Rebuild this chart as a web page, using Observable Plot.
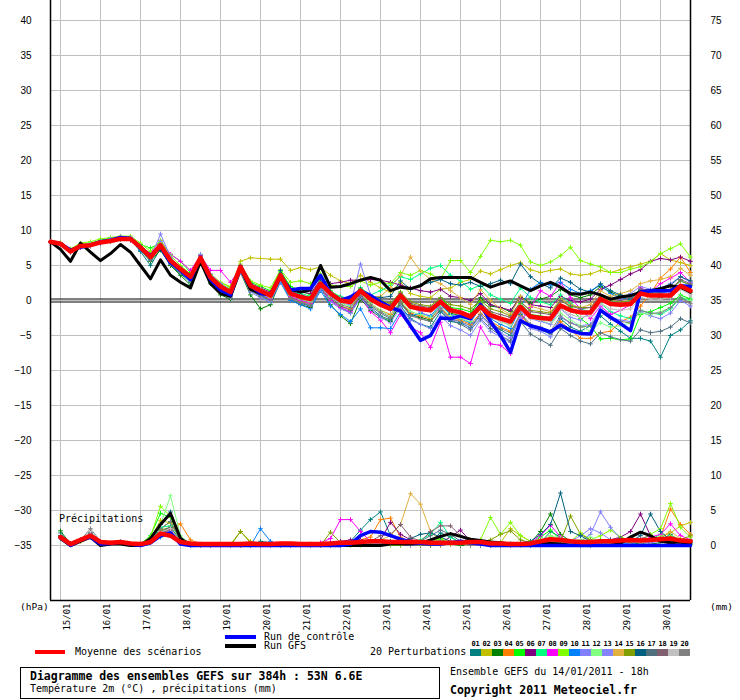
<!DOCTYPE html>
<html><head><meta charset="utf-8">
<script src="https://cdn.jsdelivr.net/npm/d3@7"></script>
<script src="https://cdn.jsdelivr.net/npm/@observablehq/plot@0.6"></script>
<style>
body{margin:0;background:#fff;}
#wrap{position:relative;width:740px;height:700px;overflow:hidden;font-family:"DejaVu Sans Mono",monospace;color:#000;}
.t{position:absolute;white-space:nowrap;line-height:1;}
.sw{position:absolute;}
</style></head><body><div id="wrap"></div>
<script>
// ---- time axis ----
const dayLabels = ["15/01","16/01","17/01","18/01","19/01","20/01","21/01","22/01","23/01","24/01","25/01","26/01","27/01","28/01","29/01","30/01"];
const tempTicks = [-35,-30,-25,-20,-15,-10,-5,0,5,10,15,20,25,30,35,40];
const precipOffset = 35; // right axis (mm) = left axis (°C) + 35

// ---- temperature 2m (°C), every 6h from 14/01 18h (65 steps) ----
const tMean = [8.4,8.1,7.0,7.8,7.9,8.3,8.5,8.8, 8.8,7.6,6.2,7.9,5.7,4.5,3.4,6.1, 3.3,2.0,1.2,4.8,2.1,1.4,0.7,3.6, 1.0,0.5,0.2,2.4,1.0,0.0,-0.2,1.4, 0.2,-0.6,-1.2,0.7,-0.9,-1.2,-1.4,-0.2, -1.4,-1.7,-2.3,-0.9,-2.1,-2.6,-3.0,-0.9, -2.3,-2.5,-2.6,-0.7,-1.4,-1.7,-1.7,0.2, -0.5,-0.6,-0.5,1.0,0.7,0.7,0.7,2.1, 1.4];
const tControl = [8.4,8.1,7.2,7.6,7.9,8.4,8.6,9.0, 8.9,7.5,6.4,7.6,5.4,4.3,3.0,6.2, 3.0,1.5,0.8,4.9,2.2,1.0,0.9,3.4, 1.5,1.7,1.7,3.6,1.0,0.0,0.5,1.4, 0.7,-0.2,-1.0,-1.5,-3.6,-5.7,-5.0,-2.5, -2.6,-2.2,-2.6,-0.6,-3.0,-5.0,-7.4,-2.9, -3.6,-4.0,-4.5,-3.5,-4.3,-4.7,-4.8,-1.4, -2.4,-3.3,-4.3,1.2,1.4,1.4,1.4,2.1, 2.0];
const tGFS = [8.4,7.3,5.6,8.2,6.9,5.7,6.7,8.0, 6.9,5.0,3.1,5.8,3.6,2.6,1.8,5.6, 2.4,1.0,0.6,4.6,1.6,1.0,0.8,3.5, 1.6,1.2,1.5,5.0,1.9,2.0,2.4,2.9, 3.3,2.9,1.4,1.9,1.7,2.1,3.1,3.3, 3.3,3.3,3.3,2.6,1.9,2.4,2.8,2.1, 1.4,2.1,2.6,1.9,1.0,0.9,1.2,0.8, 0.2,0.5,0.7,1.2,1.4,1.7,2.1,1.9, 1.2];
const t01 = [8.4,8.0,7.2,7.6,8.0,8.2,8.6,8.9, 8.7,7.0,5.0,7.4,5.0,3.8,2.6,5.8, 2.8,1.5,0.6,4.4,1.6,0.8,0.2,3.2, 0.6,-0.2,-0.8,1.6,0.0,-1.0,-1.8,0.4, -1.0,-2.2,-2.8,-0.8,-2.6,-3.4,-3.8,-1.6, -3.0,-3.2,-3.9,-2.0,-3.4,-4.2,-5.0,-2.0, -3.6,-4.2,-4.8,-2.6,-3.8,-4.4,-3.6,-2.2, -3.4,-4.4,-5.4,-5.4,-5.8,-8.1,-5.0,-4.2, -2.9];
const t02 = [8.4,8.2,7.1,7.9,8.1,8.4,8.6,8.9, 8.9,7.9,6.6,8.2,6.0,4.8,3.8,6.4, 3.8,2.6,1.8,5.6,6.1,6.0,5.9,5.9, 4.3,4.7,4.4,4.8,3.6,2.8,2.4,3.6, 2.6,1.8,1.2,2.6,1.0,0.6,0.4,1.6, 1.8,2.6,3.0,4.2,3.8,4.4,5.0,5.4, 4.4,4.0,4.3,4.5,3.8,3.6,3.8,4.3, 4.0,4.4,4.8,5.2,5.6,6.7,5.8,5.4, 5.0];
const t03 = [8.4,8.1,6.9,7.7,7.8,8.2,8.4,8.7, 8.6,7.2,5.6,7.2,5.0,3.6,2.2,5.6, 2.4,0.8,0.2,4.0,0.8,-1.2,-0.6,2.8, 0.2,-0.6,-1.0,1.8,-0.6,-2.2,-3.3,0.2, -1.4,-2.4,-3.0,-0.4,-2.0,-2.4,-2.8,-0.6, -1.8,-2.2,-2.0,0.4,-0.8,-1.0,-1.6,0.6, -0.4,0.2,0.6,1.6,0.8,0.4,0.8,2.0, 1.2,0.6,0.2,1.4,0.8,0.4,1.0,1.8, 1.2];
const t04 = [8.4,8.0,7.0,7.8,8.0,8.4,8.5,8.8, 8.8,7.4,6.0,7.8,5.4,4.2,3.0,5.8, 3.0,1.6,0.6,4.6,1.6,0.6,0.0,3.0, 0.4,-0.2,-0.4,2.0,0.4,-0.8,-1.2,0.8, -0.4,-1.4,-2.0,-0.2,-1.8,-2.2,-2.6,-1.0, -2.4,-2.8,-3.4,-1.8,-3.0,-3.8,-4.4,-2.2, -3.6,-4.2,-4.6,-3.0,-4.2,-5.4,-5.4,-4.6, -4.4,-3.0,-2.4,-0.8,1.0,3.2,4.5,6.2, 4.0];
const t05 = [8.4,8.2,7.2,8.0,8.2,8.6,8.9,9.0, 9.0,8.0,7.5,8.2,6.6,5.6,4.0,6.4, 3.6,2.2,1.4,5.0,2.6,2.0,1.4,4.2, 2.0,1.4,0.8,2.8,1.4,0.4,0.0,1.8, 0.4,-0.4,-1.0,1.2,-0.6,-1.0,-1.2,0.4, -1.0,-1.2,-1.6,-0.2,-1.8,-2.4,-3.2,-0.4, -2.0,-2.2,-2.8,0.2,-1.0,-2.6,-3.6,-5.5, -5.4,-5.6,-5.5,-2.0,-1.6,-1.0,-0.4,0.8, 0.2];
const t06 = [8.4,8.1,7.0,7.7,7.9,8.3,8.5,8.9, 8.9,7.7,6.4,8.0,5.8,4.4,3.2,6.2, 3.4,2.2,1.4,5.0,2.4,1.8,1.2,3.8, 1.6,1.2,1.0,3.0,2.4,2.6,2.9,2.9, 3.0,2.9,2.6,2.2,1.8,1.4,1.2,1.6, 0.6,0.4,0.0,1.0,-0.6,-1.0,-1.4,0.4, -0.6,-0.8,-1.0,0.6,0.0,-0.2,0.2,1.6, 2.2,3.0,3.8,4.4,5.6,6.0,5.8,6.2, 5.6];
const t07 = [8.4,8.2,7.1,7.9,8.0,8.4,8.6,8.9, 8.9,7.8,6.4,8.1,6.0,4.8,3.6,6.2, 3.6,2.4,1.6,4.9,2.2,1.6,1.0,3.8, 1.6,1.0,0.6,2.6,1.2,0.6,0.2,1.8, 0.8,1.4,2.2,3.4,3.0,3.8,4.6,5.0, 3.6,2.8,1.6,2.2,0.8,0.2,-0.4,1.8, 0.4,-0.2,-0.6,0.8,-0.4,-1.2,-1.6,-0.4, -1.6,-2.2,-2.6,-1.4,-1.8,-2.0,-1.2,0.4, 0.0];
const t08 = [8.4,8.0,6.9,7.6,7.8,8.2,8.4,8.7, 8.6,7.6,6.8,8.6,6.6,5.6,4.3,6.4, 4.3,4.3,2.6,4.6,1.8,1.0,0.2,3.0, 0.6,0.0,-0.4,1.8,0.0,-1.0,-1.6,0.6, -1.6,-2.8,-4.6,-2.0,-3.8,-4.6,-6.7,-3.1, -8.1,-8.1,-9.0,-3.8,-6.2,-6.4,-7.6,-3.0, -1.0,1.4,0.6,2.6,0.4,-1.2,-2.6,-0.8, -2.0,-1.4,-0.6,1.8,1.2,2.4,3.2,4.0, 2.6];
const t09 = [8.4,8.3,7.4,8.2,8.4,8.8,9.0,9.2, 9.2,8.2,7.0,8.6,6.4,5.0,3.8,6.6, 3.6,2.6,2.0,5.2,2.8,2.2,1.8,4.4, 2.6,2.8,2.4,3.8,2.2,2.0,2.0,2.8, 2.2,2.6,2.4,4.0,3.6,4.3,3.8,3.0, 5.7,5.7,4.0,6.3,8.6,8.4,8.6,7.9, 5.5,5.0,5.5,6.4,7.6,5.7,5.2,4.8, 4.0,4.0,4.5,4.8,5.5,6.7,7.4,8.1, 6.2];
const t10 = [8.4,8.1,7.0,7.8,7.9,8.2,8.4,8.7, 8.7,7.2,5.8,7.6,5.2,4.0,2.8,5.9, 3.0,1.6,0.8,4.6,1.4,0.6,-0.2,2.6, 0.0,-0.6,-1.2,1.4,-0.8,-2.0,-3.0,-1.2, -3.9,-3.9,-4.0,-1.6,-2.2,-1.8,-2.2,-0.6, -2.0,-2.6,-3.2,-0.8,-2.6,-3.4,-4.0,-1.0, 1.6,2.6,2.2,2.6,1.6,1.0,1.4,2.2, 1.0,0.4,0.2,1.6,1.2,1.0,1.4,2.8, 2.2];
const t11 = [8.4,8.2,7.2,8.0,8.1,8.5,8.8,9.1, 9.0,7.8,6.0,9.5,6.2,4.6,3.6,6.6, 3.8,2.4,1.4,4.6,1.6,0.8,0.4,3.4, 0.8,0.2,-0.2,2.0,0.4,-0.4,-0.6,5.2, 0.8,-0.4,-1.4,0.8,-1.0,-1.6,-2.4,-1.0, -2.8,-3.0,-4.0,-2.2,-3.6,-4.6,-5.4,-2.4, -4.0,-4.4,-5.2,-2.4,-3.2,-3.6,-3.4,-1.2, -2.4,-2.8,-3.0,-1.6,-2.2,-2.6,-1.8,0.0, -0.8];
const t12 = [8.4,8.1,7.1,7.9,8.0,8.4,8.6,8.9, 8.8,7.6,6.2,7.8,5.6,4.4,3.2,5.9, 3.2,1.8,1.0,4.6,1.8,1.2,0.4,3.4, 0.8,0.2,-0.2,2.2,0.6,-0.4,-0.8,1.0, -0.4,-1.4,-2.2,0.0,-1.6,-2.0,-2.4,-0.8, -2.2,-2.6,-3.0,-1.0,-2.4,-3.0,-3.6,-0.6, -2.2,-2.8,-3.4,-1.8,-2.8,-3.6,-4.4,-3.2, -3.8,-3.6,-3.2,-1.8,-2.0,-1.6,-1.0,0.6, 0.0];
const t13 = [8.4,8.0,6.9,7.7,7.8,8.2,8.4,8.7, 8.7,7.4,6.0,8.4,5.2,4.0,2.8,5.8, 2.8,1.4,0.4,4.0,1.2,0.4,-0.2,2.8, 0.2,-0.4,-0.8,1.6,-0.2,-1.2,-1.8,0.4, -1.2,-2.4,-3.2,-1.0,-2.8,-3.4,-4.0,-2.2, -3.6,-4.2,-5.0,-2.8,-4.4,-5.2,-6.0,-1.6, -2.6,-3.0,-3.4,-1.2,-2.4,-2.8,-1.6,0.8, -0.6,0.2,1.0,2.0,1.6,1.8,2.4,3.4, 2.6];
const t14 = [8.4,8.1,7.0,7.8,7.9,8.3,8.5,8.8, 8.8,7.5,6.0,7.7,5.6,4.3,3.2,6.0, 3.2,1.8,1.0,4.8,1.8,1.2,0.4,3.4, 0.8,0.4,0.0,2.2,0.8,0.0,-0.4,1.4, 0.4,0.6,1.8,3.6,6.2,4.2,3.0,2.4, 1.4,0.4,-0.6,1.6,0.0,-1.2,-2.0,0.6, -0.8,-1.2,-1.6,0.2,-0.6,-1.0,-0.6,1.4, 0.6,1.0,1.4,2.4,2.8,3.0,3.4,4.6, 3.6];
const t15 = [8.4,8.2,7.1,7.9,8.0,8.4,8.6,8.9, 8.9,7.7,6.3,8.0,5.8,4.6,3.4,6.1, 3.4,2.0,1.2,4.8,2.2,1.6,0.8,3.8, 1.2,0.6,0.4,2.6,1.2,0.4,0.2,1.6, 0.6,0.0,-0.4,1.2,-0.2,-0.6,-0.8,0.4, -0.6,-0.8,-1.2,0.0,-1.2,-1.6,-2.2,-0.2, -1.4,-1.6,-1.8,0.0,-0.8,-1.0,-1.0,0.6, 0.0,-0.2,0.0,1.2,1.0,1.2,1.6,2.8, 2.2];
const t16 = [8.4,8.1,7.0,7.8,7.9,8.3,8.5,8.8, 8.8,7.4,5.8,7.8,5.4,4.2,3.0,5.8, 3.0,1.6,0.8,4.8,1.8,1.2,0.6,4.3, 1.4,0.8,0.4,2.6,1.0,0.2,0.0,1.6, 0.6,0.4,0.6,2.8,1.6,2.2,2.6,3.0, 2.4,2.2,2.6,2.0,2.4,2.9,2.4,5.2, 3.4,2.4,1.8,3.2,2.6,1.6,1.2,2.4, 1.4,0.8,0.4,1.6,1.4,1.8,2.2,3.4, 2.8];
const t17 = [8.4,8.0,6.9,7.7,7.8,8.2,8.4,8.7, 8.7,7.5,6.0,7.8,5.6,4.4,3.2,6.0, 3.0,1.6,0.8,4.4,1.6,0.8,0.0,3.0, 0.2,-0.4,-0.8,1.8,0.2,-0.8,-1.4,0.6, -0.8,-1.8,-2.6,-0.2,-2.0,-2.6,-3.0,-1.4, -2.8,-3.4,-4.2,-2.6,-4.0,-5.0,-5.8,-3.0, -4.8,-5.6,-6.4,-4.0,-5.0,-5.8,-6.2,-4.6, -5.2,-5.6,-5.8,-4.2,-4.6,-4.4,-3.8,-2.6, -3.2];
const t18 = [8.4,8.1,7.0,7.8,7.9,8.3,8.5,8.8, 8.8,7.6,6.2,7.9,5.8,4.6,3.4,6.2, 3.4,2.0,1.2,5.0,2.2,1.4,0.8,3.6, 1.0,0.6,0.2,2.4,1.2,0.4,0.2,1.4, 0.4,-0.2,-0.6,1.0,-0.4,-0.8,-1.0,0.2, -1.2,-1.6,-2.0,-0.4,-1.6,-2.0,-2.4,-0.2, -1.6,-1.8,-2.0,0.0,-0.8,-1.2,-1.0,0.8, 0.2,0.0,0.4,1.6,1.4,1.2,1.6,3.0, 2.4];
const t19 = [8.4,8.1,7.1,7.9,8.0,8.3,8.6,8.9, 8.8,7.7,6.4,8.0,5.9,4.6,3.6,6.2, 3.4,2.1,1.4,4.9,2.2,1.6,0.8,3.6, 1.2,0.6,0.4,2.4,1.0,0.2,0.0,1.4, 0.2,-0.6,-1.2,0.6,-1.0,-1.4,-1.6,-0.4, -1.6,-2.0,-2.6,-1.2,-2.4,-3.0,-3.4,-1.2, -2.6,-2.8,-3.0,-1.2,-2.0,-2.4,-2.2,-0.4, -1.2,-1.4,-1.2,0.4,0.2,0.2,0.4,1.6, 0.8];
const t20 = [8.4,8.0,6.9,7.7,7.8,8.2,8.4,8.7, 8.7,7.4,5.8,7.6,5.2,4.0,2.8,5.8, 2.8,1.4,0.6,4.4,1.4,0.6,0.0,3.0, 0.4,-0.2,-0.6,1.8,0.2,-0.6,-1.0,0.8, -0.6,-1.6,-2.4,-0.4,-2.2,-2.6,-3.0,-1.2, -2.6,-3.0,-3.6,-2.0,-3.4,-4.0,-4.6,-1.8, -3.4,-3.8,-4.4,-2.2,-3.2,-3.8,-3.6,-1.6, -2.6,-3.0,-3.2,-1.4,-1.8,-1.8,-1.0,0.4, -0.4];

// ---- precipitation (mm / 6h), steps 1..64 ----
const rMean = [1.2,0.2,0.8,1.4,0.5,0.4,0.5,0.3, 0.2,0.5,1.7,1.4,0.5,0.3,0.2,0.2, 0.2,0.2,0.2,0.3,0.2,0.2,0.3,0.3, 0.2,0.2,0.2,0.3,0.4,0.4,0.5,0.6, 0.6,0.5,0.5,0.5,0.5,0.4,0.4,0.4, 0.4,0.5,0.5,0.3,0.3,0.2,0.2,0.3, 0.6,0.9,0.8,0.6,0.5,0.5,0.6,0.6, 0.7,0.8,0.7,0.8,0.9,1.0,0.7,0.6];
const rControl = [1.2,0.0,0.8,1.2,0.2,0.3,0.5,0.2, 0.0,0.4,1.4,1.8,0.2,0.0,0.0,0.0, 0.0,0.0,0.0,0.0,0.0,0.0,0.0,0.0, 0.0,0.0,0.0,0.0,0.0,0.2,1.4,2.0, 1.9,1.4,0.9,0.5,0.3,0.2,0.2,0.4, 0.6,0.4,0.2,0.0,0.0,0.0,0.0,0.0, 0.0,0.0,0.0,0.0,0.0,0.0,0.0,0.0, 0.0,0.0,0.0,0.0,0.0,0.0,0.0,0.0];
const rGFS = [1.0,0.0,0.6,1.2,0.0,0.2,0.2,0.0, 0.0,1.0,3.0,4.6,1.0,0.0,0.0,0.0, 0.0,0.0,0.0,0.0,0.0,0.0,0.0,0.0, 0.0,0.0,0.0,0.0,0.0,0.0,0.0,0.0, 0.0,0.2,0.2,0.2,0.3,0.8,1.3,1.7, 1.3,0.9,0.7,0.5,0.4,0.2,0.0,0.0, 0.2,0.3,0.2,0.0,0.2,0.1,0.0,0.0, 0.3,1.2,1.9,1.4,0.6,0.4,0.5,0.2];
const r01 = [1.8,0.2,0.8,1.6,0.4,0.3,0.4,0.2, 0.2,0.6,2.0,2.6,0.6,0.2,0.0,0.0, 0.0,0.0,0.2,0.0,0.6,0.4,0.0,0.0, 0.0,0.2,0.0,0.0,0.0,0.6,2.2,3.7, 4.8,1.4,0.6,0.3,0.2,0.6,1.8,1.2, 0.4,0.2,0.0,0.0,0.0,0.2,0.0,0.0, 0.4,2.0,1.2,0.4,0.2,0.0,0.2,0.4, 0.6,0.4,0.2,0.6,0.8,1.6,0.6,0.4];
const r02 = [1.4,0.2,0.6,1.2,0.4,0.4,0.6,0.2, 0.2,1.0,3.6,3.2,0.8,0.2,0.2,0.0, 0.0,0.2,2.0,0.6,0.2,0.0,0.0,0.0, 0.0,0.0,0.0,0.0,0.2,0.4,0.4,0.8, 0.8,0.6,0.4,0.4,0.4,0.2,0.2,0.2, 0.6,0.8,0.6,0.2,0.4,2.4,1.4,0.6, 0.4,0.8,1.2,0.6,0.4,0.6,0.4,0.8, 0.6,0.4,0.8,0.6,1.2,1.8,2.8,3.3];
const r03 = [2.1,0.2,0.8,1.2,0.4,0.4,0.4,0.2, 0.2,0.4,2.4,3.4,0.8,0.2,0.0,0.0, 0.0,0.0,0.0,0.2,0.0,0.0,0.0,0.0, 0.0,0.0,0.0,0.0,0.0,0.2,0.4,0.6, 0.4,0.2,0.2,0.0,0.0,0.0,0.2,0.2, 0.0,0.0,0.0,0.0,0.2,0.2,0.0,0.4, 2.0,4.5,1.6,0.6,0.2,0.2,0.4,0.4, 0.4,0.6,0.2,0.2,0.4,0.6,0.4,0.2];
const r04 = [1.2,0.2,0.8,1.4,0.4,0.4,0.6,0.2, 0.2,0.4,1.6,2.2,3.1,0.8,0.2,0.0, 0.0,0.0,0.0,0.0,0.0,0.0,0.0,0.0, 0.0,0.0,0.0,0.0,0.2,0.4,0.8,1.2, 3.7,3.9,1.2,0.4,0.2,0.0,0.0,0.2, 0.2,0.0,0.0,0.0,0.2,0.0,0.0,0.2, 0.6,0.8,0.4,0.2,0.2,0.4,0.6,0.4, 0.6,0.4,0.6,0.8,1.2,5.2,3.0,1.6];
const r05 = [1.4,0.2,0.6,1.8,0.4,0.4,0.4,0.2, 0.2,1.4,4.6,4.0,1.0,0.2,0.0,0.0, 0.0,0.0,0.0,0.0,0.0,0.0,0.2,0.0, 0.0,0.0,0.0,0.0,0.0,0.0,0.2,0.4, 0.4,0.2,0.2,0.4,0.2,0.6,0.8,0.4, 0.2,0.0,0.0,0.2,0.4,0.2,0.0,0.2, 1.2,2.2,0.8,0.4,0.2,0.2,0.8,0.4, 0.4,0.6,0.4,1.0,0.6,1.4,0.8,0.6];
const r06 = [1.2,0.2,0.6,1.4,0.4,0.4,0.6,0.2, 0.2,0.6,2.0,2.4,0.6,0.2,0.0,0.0, 0.0,0.0,0.0,0.0,0.0,0.0,0.0,0.0, 0.0,0.0,0.2,0.4,0.6,0.8,0.8,0.6, 0.8,3.3,1.6,0.8,0.6,0.4,0.4,1.2, 2.2,0.6,0.2,0.0,0.0,0.0,0.0,0.0, 0.4,0.6,0.2,0.4,0.2,0.4,0.6,0.8, 1.2,2.0,4.5,1.4,0.8,0.6,0.4,0.6];
const r07 = [1.0,0.2,0.6,1.2,0.4,0.4,0.4,0.2, 0.2,0.8,2.6,2.8,0.6,0.2,0.0,0.0, 0.0,0.0,0.0,0.0,0.0,0.0,0.0,0.0, 0.0,0.0,0.0,0.0,0.0,0.2,0.4,0.6, 0.6,0.4,0.2,0.4,0.8,1.6,3.3,1.2, 0.4,0.2,0.0,0.0,0.0,0.2,0.0,0.0, 0.4,0.8,0.6,0.4,0.6,0.2,0.4,0.6, 0.4,0.6,0.4,0.8,1.6,0.6,0.4,0.2];
const r08 = [1.2,0.2,0.8,1.6,0.4,0.4,0.4,0.2, 0.2,0.6,1.4,1.8,0.4,0.2,0.0,0.0, 0.0,0.0,0.0,0.0,0.0,0.0,0.0,0.0, 0.0,0.2,0.4,1.0,3.7,3.7,2.0,0.6, 0.4,0.2,0.0,0.0,0.0,0.2,0.2,0.4, 0.2,0.0,0.0,0.0,0.0,0.0,0.2,0.4, 1.4,2.9,1.2,0.4,0.2,0.6,0.4,0.8, 1.0,0.6,0.4,1.2,1.6,3.1,1.4,0.8];
const r09 = [1.4,0.2,0.6,1.6,0.4,0.4,0.4,0.2, 0.2,1.2,5.6,4.2,1.0,0.2,0.0,0.0, 0.0,0.0,0.0,0.0,0.0,0.0,0.0,0.0, 0.0,0.0,0.0,0.0,0.0,0.0,0.0,0.2, 0.2,0.0,0.0,0.2,0.4,0.6,1.0,0.4, 0.2,0.4,0.8,4.0,1.6,3.3,1.4,0.6, 0.6,1.2,0.8,0.6,1.8,0.8,1.4,2.2, 1.2,0.8,0.6,1.6,2.4,6.0,2.6,1.2];
const r10 = [1.2,0.2,0.8,1.4,0.4,0.4,0.6,0.2, 0.2,0.4,1.2,1.6,0.4,0.0,0.0,0.0, 0.0,0.0,0.0,0.0,2.4,0.6,0.0,0.0, 0.0,0.0,0.0,0.0,0.0,0.0,0.2,0.4, 0.6,0.4,0.2,0.0,0.0,0.0,0.2,0.4, 0.6,0.4,0.2,0.0,0.0,0.0,0.0,0.0, 0.2,0.6,0.4,0.2,0.0,0.2,0.4,0.2, 0.4,0.2,0.6,0.4,0.8,1.0,0.6,0.4];
const r11 = [1.0,0.2,0.8,1.8,0.6,0.4,0.4,0.2, 0.2,0.6,1.8,2.2,0.6,0.0,0.0,0.0, 0.0,0.0,0.0,0.0,0.0,0.0,0.0,0.0, 0.0,0.0,0.0,0.0,0.2,0.4,0.6,0.4, 0.4,0.4,0.2,0.2,0.0,0.2,0.6,0.4, 0.2,0.0,0.0,0.0,0.2,0.2,0.4,0.2, 0.4,0.6,0.8,0.6,0.6,1.6,4.8,2.6, 1.0,0.6,0.4,0.4,0.8,0.6,0.4,0.4];
const r12 = [1.2,0.2,0.6,1.4,0.4,0.4,0.4,0.2, 0.2,1.0,3.0,7.1,1.4,0.2,0.0,0.0, 0.0,0.0,0.0,0.0,0.0,0.0,0.0,0.0, 0.0,0.0,0.0,0.0,0.0,0.0,0.2,0.4, 0.4,0.2,0.2,0.4,0.6,0.8,0.6,0.4, 0.2,0.0,0.0,0.0,0.2,0.0,0.0,0.2, 0.6,1.4,1.0,0.6,0.8,1.2,0.6,0.4, 0.6,1.2,0.8,0.6,0.6,1.4,0.8,0.6];
const r13 = [1.0,0.2,0.8,1.6,0.4,0.4,0.6,0.2, 0.2,0.4,1.6,2.0,0.6,0.2,0.0,0.0, 0.0,0.0,0.0,0.0,0.0,0.0,0.0,0.0, 0.0,0.0,0.0,0.0,0.0,0.2,0.4,0.4, 0.2,0.2,0.2,0.0,0.0,0.2,0.4,0.4, 0.2,0.0,0.0,0.0,0.0,0.2,0.2,0.2, 0.4,0.6,0.4,0.6,1.4,2.4,1.8,0.8, 0.6,0.8,0.6,0.4,0.6,0.8,0.6,0.4];
const r14 = [1.2,0.2,0.6,1.2,0.4,0.4,0.4,0.2, 0.2,0.6,1.8,2.4,0.6,0.2,0.0,0.0, 0.0,0.0,0.0,0.0,0.0,0.0,0.0,0.0, 0.0,0.0,0.0,0.0,0.0,0.2,0.4,0.6, 0.8,1.4,3.0,7.4,5.9,2.0,0.6,0.4, 0.2,0.0,0.0,0.0,0.0,0.0,0.2,0.2, 0.4,0.6,0.4,0.2,0.4,0.6,0.4,0.6, 0.8,0.6,0.4,0.8,1.2,2.0,1.0,0.6];
const r15 = [1.4,0.2,0.8,1.4,0.4,0.4,0.4,0.2, 0.2,0.6,2.2,2.6,0.6,0.2,0.0,0.0, 0.0,0.0,2.0,0.4,0.0,0.0,0.0,0.0, 0.0,0.0,0.0,1.9,0.4,0.2,0.2,0.4, 0.6,0.4,0.2,0.2,0.0,0.0,0.2,0.4, 0.2,0.0,0.0,0.8,1.6,2.1,0.8,0.4, 0.4,0.8,0.6,4.2,1.6,0.8,0.6,0.4, 0.6,0.8,1.0,0.6,0.8,1.2,0.8,1.4];
const r16 = [1.4,0.2,0.8,1.6,0.4,0.4,0.4,0.2, 0.2,0.8,3.0,4.8,1.0,0.2,0.0,0.0, 0.0,0.0,0.0,0.0,0.0,0.0,0.0,0.0, 0.0,0.0,0.0,0.0,0.2,0.4,0.4,0.6, 0.8,0.6,0.4,1.0,1.6,1.8,1.2,0.6, 0.4,0.2,0.0,0.0,0.0,0.2,0.4,0.6, 1.6,3.0,7.5,2.0,1.4,0.6,0.4,0.8, 1.0,0.6,1.4,4.5,2.0,0.8,0.4,0.6];
const r17 = [1.2,0.2,0.8,1.6,0.4,0.4,0.4,0.2, 0.2,0.6,2.0,2.6,0.6,0.2,0.0,0.0, 0.0,0.0,0.0,0.0,0.0,0.0,0.0,0.0, 0.0,0.0,0.0,0.0,0.0,0.2,0.4,0.6, 0.4,0.4,0.6,0.4,0.6,1.4,2.2,1.6, 0.6,0.2,0.0,0.0,0.0,0.0,0.2,0.4, 0.4,0.6,0.4,0.2,0.4,0.6,0.4,0.4, 0.6,0.8,0.6,0.8,1.0,0.6,0.4,0.4];
const r18 = [1.2,0.2,0.8,1.8,0.6,0.4,0.4,0.2, 0.2,0.6,1.8,2.2,0.6,0.2,0.0,0.0, 0.0,0.0,0.0,0.0,0.0,0.0,0.0,0.0, 0.0,0.0,0.0,0.0,0.0,0.2,0.4,0.6, 1.4,1.6,3.0,1.2,0.6,2.0,2.8,2.8, 1.4,0.4,0.2,0.0,0.0,0.0,0.2,0.2, 0.4,0.6,0.4,0.2,0.4,0.6,0.4,0.6, 0.8,0.6,1.0,1.4,0.8,0.6,0.4,0.4];
const r19 = [1.2,0.2,0.8,2.0,0.6,0.4,0.4,0.2, 0.2,0.6,2.0,2.4,0.6,0.2,0.0,0.0, 0.0,0.0,0.0,0.0,0.0,0.0,0.0,0.0, 0.0,0.0,0.0,0.0,0.0,0.2,0.2,0.4, 0.4,0.2,0.2,0.2,0.2,0.4,0.6,0.4, 0.2,0.0,0.0,0.0,0.0,0.0,0.2,0.2, 0.4,0.6,0.4,0.2,0.2,0.4,0.4,0.4, 0.4,0.6,0.4,0.6,0.8,0.6,0.4,0.4];
const r20 = [1.2,0.2,0.8,2.4,0.6,0.4,0.4,0.2, 0.2,0.6,2.4,3.4,0.8,0.2,0.0,0.0, 0.0,0.0,0.0,0.0,0.0,0.0,0.0,0.0, 0.0,0.0,0.0,0.0,0.0,0.2,0.4,0.4, 0.6,0.4,0.2,0.2,0.4,0.6,0.6,0.4, 0.2,0.0,0.0,0.0,0.0,0.0,0.2,0.2, 0.4,0.6,0.4,0.2,0.4,0.6,0.4,0.4, 0.6,0.4,0.6,0.8,0.6,0.8,0.4,0.4];

// ---- members ----
const memberNames = ["01","02","03","04","05","06","07","08","09","10","11","12","13","14","15","16","17","18","19","20"];
const memberColors = ["#008080","#c0c000","#008000","#ff8000","#00ff00","#800080","#00ff80","#ff00ff","#80ff00","#0080ff","#8080ff","#80ff80","#8484ff","#e0b040","#80a000","#006080","#507080","#806070","#c0c0c0","#808080"];
const memberTemps = [t01,t02,t03,t04,t05,t06,t07,t08,t09,t10,t11,t12,t13,t14,t15,t16,t17,t18,t19,t20];
const memberPrecip = [r01,r02,r03,r04,r05,r06,r07,r08,r09,r10,r11,r12,r13,r14,r15,r16,r17,r18,r19,r20];

// ---- build tables ----
const tRows = (arr, m) => arr.map((v, i) => ({h: i * 6, v, m}));
const pRows = (arr, m) => arr.map((v, i) => ({h: (i + 1) * 6, v: v - precipOffset, m}));
const pertTemp = memberNames.flatMap((m, k) => tRows(memberTemps[k], m));
const pertPrecip = memberNames.flatMap((m, k) => pRows(memberPrecip[k], m));
const dayHours = dayLabels.map((d, k) => 6 + 24 * k);
const yMax = 300 / 7;

const mono = "DejaVu Sans Mono, monospace";
const chart = Plot.plot({
  width: 740, height: 640,
  marginLeft: 50, marginRight: 50, marginTop: 0, marginBottom: 40,
  style: {background: "#fff", overflow: "visible"},
  x: {domain: [0, 384], axis: null},
  y: {domain: [-yMax, yMax]},
  color: {type: "ordinal", domain: memberNames, range: memberColors},
  marks: [
    Plot.gridY(tempTicks, {stroke: "#c0c0c0", strokeOpacity: 1}),
    Plot.gridX(dayHours, {stroke: "#c0c0c0", strokeOpacity: 1}),
    Plot.ruleY([0], {stroke: "#000", dy: -1.5, strokeWidth: 1}),
    Plot.ruleY([0], {stroke: "#000", dy: 1.5, strokeWidth: 1}),
    Plot.ruleX([0, 384], {stroke: "#000", strokeWidth: 1.5}),
    Plot.ruleY([-yMax], {stroke: "#000", strokeWidth: 1.5}),
    Plot.axisY(tempTicks, {anchor: "left", tickSize: 0, tickPadding: 19, fontSize: 10, fontFamily: "Liberation Sans, Arial, sans-serif", label: null}),
    Plot.axisY(tempTicks, {anchor: "right", tickSize: 0, tickPadding: 20, fontSize: 10, fontFamily: "Liberation Sans, Arial, sans-serif", label: null, tickFormat: d => d + precipOffset}),
    Plot.text(dayHours, {x: d => d, frameAnchor: "bottom", text: (d, i) => dayLabels[i], rotate: -90, textAnchor: "end", lineAnchor: "middle", dx: 7, dy: 3, fontSize: 9, fontFamily: mono, fill: "#000"}),
    // perturbations
    Plot.line(pertTemp, {x: "h", y: "v", z: "m", stroke: "m", strokeWidth: 1}),
    Plot.dot(pertTemp, {x: "h", y: "v", stroke: "m", symbol: "plus", r: 1.6, strokeWidth: 1}),
    Plot.line(pertPrecip, {x: "h", y: "v", z: "m", stroke: "m", strokeWidth: 1}),
    Plot.dot(pertPrecip, {x: "h", y: "v", stroke: "m", symbol: "plus", r: 1.6, strokeWidth: 1}),
    // GFS, control, mean
    Plot.line(tRows(tGFS, "gfs"), {x: "h", y: "v", stroke: "#000", strokeWidth: 3}),
    Plot.line(pRows(rGFS, "gfs"), {x: "h", y: "v", stroke: "#000", strokeWidth: 3}),
    Plot.line(tRows(tControl, "ctl"), {x: "h", y: "v", stroke: "#0000ff", strokeWidth: 3.5}),
    Plot.line(pRows(rControl, "ctl"), {x: "h", y: "v", stroke: "#0000ff", strokeWidth: 3.5}),
    Plot.line(tRows(tMean, "mean"), {x: "h", y: "v", stroke: "#ff0000", strokeWidth: 4.5}),
    Plot.line(pRows(rMean, "mean"), {x: "h", y: "v", stroke: "#ff0000", strokeWidth: 4.5})
  ]
});

const wrap = document.getElementById("wrap");
chart.style.position = "absolute"; chart.style.left = "0px"; chart.style.top = "0px";
wrap.appendChild(chart);

function txt(s, left, top, size, bold, extra) {
  const d = document.createElement("div");
  d.className = "t";
  d.textContent = s;
  d.style.left = left + "px"; d.style.top = top + "px";
  d.style.fontSize = size + "px";
  if (bold) d.style.fontWeight = "bold";
  if (extra) Object.assign(d.style, extra);
  wrap.appendChild(d);
  return d;
}
function sw(left, top, w, h, color, extra) {
  const d = document.createElement("div");
  d.className = "sw";
  Object.assign(d.style, {left: left + "px", top: top + "px", width: w + "px", height: h + "px", background: color}, extra || {});
  wrap.appendChild(d);
  return d;
}

txt("Précipitations", 59, 514, 10);
txt("(hPa)", 20, 602, 9.5);
txt("(mm)", 710, 602, 9.5);

// legend
sw(35, 649.5, 30, 4.5, "#ff0000");
txt("Moyenne des scénarios", 75, 647, 10);
sw(225, 635, 31, 4, "#0000ff");
txt("Run de contrôle", 264, 631.5, 10);
sw(225, 644, 31, 4, "#000000");
txt("Run GFS", 264, 641, 10);
txt("20 Perturbations", 370, 647, 10);
memberNames.forEach((m, k) => {
  txt(m, 470 + 11 * k, 641, 7, true, {width: "11px", textAlign: "center", letterSpacing: "-0.3px"});
  sw(470 + 11 * k, 649, 10.5, 6.5, memberColors[k]);
});

// title boxes
sw(20, 667, 420, 32, "transparent", {border: "1px solid #000", boxSizing: "border-box"});
txt("Diagramme des ensembles GEFS sur 384h : 53N 6.6E", 30, 671, 11.5, true);
txt("Température 2m (°C) , précipitations (mm)", 30, 684, 10);
txt("Ensemble GEFS du 14/01/2011 - 18h", 450, 667, 10);
txt("Copyright 2011 Meteociel.fr", 450, 685, 11.5, true);
</script>
</body></html>
